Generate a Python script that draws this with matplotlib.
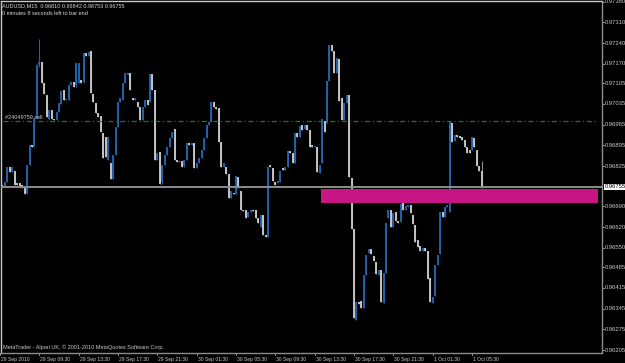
import numpy as np
import pandas as pd
import matplotlib
matplotlib.use("Agg")
import matplotlib.pyplot as plt
from matplotlib import transforms
from matplotlib.patches import Rectangle
import matplotlib.font_manager as fm

# ---------------- data ----------------
header_line1 = "AUDUSD,M15  0.96810 0.96842 0.96753 0.96755"
header_line2 = "0 minutes 8 seconds left to bar end"
footer_text = "MetaTrader - Alpari UK, \u00a9 2001-2010 MetaQuotes Software Corp."

axis_start_time = "2010-09-29 05:30"
first_bar_time = "2010-09-29 05:45"

# prices in points (1 point = 0.00001)
opens_pts = [
    96762, 96756, 96773, 96821, 96807, 96810, 96770, 96768, 96762, 96751,
    96734, 96829, 96896, 96891, 96987, 97166, 97175, 97105, 97065, 96983,
    97014, 96983, 96981, 97009, 97035, 97082, 97048, 97050, 97099, 97110,
    97099, 97105, 97116, 97110, 97206, 97196, 97212, 97069, 97037, 97004,
    96994, 96936, 96925, 96846, 96835, 96781, 96863, 96958, 97043, 97048,
    97107, 97133, 97141, 97054, 97048, 97043, 97024, 96981, 97026, 97050,
    97043, 97136, 97082, 96846, 96874, 96771, 96829, 96863, 96891, 96919,
    96950, 96846, 96840, 96844, 96826, 96846, 96902, 96896, 96902, 96818,
    96835, 96852, 96880, 96919, 96964, 96975, 97041, 97025, 97022, 96908,
    96822, 96823, 96799, 96717, 96736, 96733, 96790, 96743, 96677, 96677,
    96653, 96669, 96677, 96677, 96649, 96621, 96660, 96593, 96585, 96829,
    96818, 96773, 96769, 96773, 96818, 96812, 96823, 96877, 96869, 96837,
    96936, 96925, 96964, 96950, 96964, 96947, 96896, 96889, 96891, 96802,
    96835, 96978, 96970, 97114, 97234, 97212, 97138, 97186, 97054, 96981,
    97037, 97065, 96784, 96612, 96306, 96368, 96371, 96346, 96458, 96531,
    96545, 96522, 96503, 96458, 96475, 96364, 96466, 96652, 96679, 96621,
    96671, 96641, 96638, 96726, 96677, 96687, 96694, 96660, 96627, 96576,
    96555, 96539, 96549, 96539, 96447, 96362, 96388, 96492, 96529, 96672,
    96655, 96687, 96672, 96971, 96911, 96930, 96928, 96923, 96915, 96889,
    96880, 96880, 96919, 96880, 96826, 96810,
]
highs_pts = [
    96763, 96773, 96823, 96821, 96821, 96810, 96770, 96768, 96762, 96751,
    96829, 96896, 96896, 96987, 97166, 97253, 97175, 97105, 97065, 97014,
    97014, 96983, 97009, 97037, 97080, 97082, 97053, 97099, 97110, 97110,
    97173, 97173, 97116, 97206, 97206, 97210, 97212, 97069, 97037, 97004,
    96994, 96936, 96925, 96925, 96835, 96863, 96958, 97043, 97054, 97105,
    97138, 97141, 97141, 97054, 97054, 97043, 97024, 97024, 97048, 97050,
    97136, 97136, 97082, 96869, 96874, 96829, 96863, 96891, 96919, 96942,
    96950, 96846, 96844, 96844, 96846, 96902, 96902, 96902, 96902, 96835,
    96852, 96880, 96919, 96964, 96975, 97043, 97041, 97025, 97022, 96908,
    96837, 96823, 96799, 96743, 96736, 96792, 96790, 96743, 96677, 96677,
    96669, 96677, 96677, 96677, 96649, 96660, 96660, 96593, 96823, 96829,
    96818, 96773, 96776, 96810, 96818, 96823, 96877, 96877, 96869, 96936,
    96936, 96961, 96964, 96963, 96964, 96947, 96896, 96893, 96891, 96829,
    96983, 96978, 97114, 97234, 97234, 97212, 97189, 97186, 97054, 97037,
    97065, 97065, 96784, 96612, 96368, 96368, 96371, 96458, 96526, 96545,
    96545, 96522, 96503, 96475, 96475, 96464, 96635, 96679, 96679, 96666,
    96671, 96641, 96698, 96726, 96691, 96694, 96694, 96660, 96627, 96576,
    96555, 96549, 96549, 96539, 96447, 96385, 96492, 96526, 96672, 96672,
    96687, 96694, 96975, 96971, 96930, 96930, 96928, 96923, 96915, 96889,
    96880, 96923, 96919, 96880, 96826, 96842,
]
lows_pts = [
    96756, 96756, 96773, 96807, 96807, 96762, 96762, 96756, 96751, 96731,
    96731, 96829, 96889, 96891, 96987, 97160, 97105, 97069, 96990, 96983,
    96983, 96981, 96981, 97009, 97035, 97048, 97048, 97050, 97099, 97093,
    97093, 97105, 97105, 97105, 97196, 97196, 97072, 97043, 97004, 96992,
    96942, 96852, 96857, 96846, 96781, 96781, 96863, 96958, 97043, 97048,
    97107, 97133, 97082, 97048, 97048, 97026, 96981, 96981, 97026, 97031,
    97043, 97082, 96846, 96846, 96765, 96765, 96829, 96863, 96891, 96919,
    96846, 96840, 96840, 96822, 96822, 96846, 96896, 96896, 96818, 96818,
    96835, 96852, 96880, 96919, 96964, 96975, 97025, 97019, 96908, 96823,
    96822, 96799, 96717, 96717, 96731, 96731, 96751, 96677, 96675, 96649,
    96653, 96669, 96675, 96649, 96634, 96621, 96593, 96587, 96585, 96822,
    96776, 96762, 96769, 96773, 96812, 96812, 96823, 96870, 96837, 96837,
    96923, 96925, 96947, 96950, 96947, 96891, 96889, 96889, 96807, 96802,
    96835, 96942, 96970, 97114, 97212, 97138, 97138, 97046, 96981, 96981,
    97037, 96790, 96612, 96312, 96306, 96360, 96346, 96346, 96458, 96531,
    96529, 96506, 96461, 96458, 96368, 96364, 96466, 96652, 96621, 96621,
    96641, 96634, 96638, 96677, 96677, 96687, 96667, 96630, 96571, 96553,
    96539, 96539, 96539, 96444, 96368, 96362, 96388, 96492, 96529, 96653,
    96655, 96687, 96672, 96908, 96911, 96925, 96920, 96913, 96891, 96869,
    96869, 96880, 96889, 96826, 96810, 96753,
]
closes_pts = [
    96758, 96773, 96823, 96807, 96821, 96762, 96762, 96756, 96751, 96731,
    96829, 96896, 96889, 96987, 97166, 97175, 97105, 97069, 96990, 97014,
    96983, 96981, 97009, 97037, 97080, 97048, 97053, 97099, 97110, 97093,
    97173, 97173, 97105, 97206, 97196, 97210, 97072, 97043, 97004, 96992,
    96942, 96852, 96857, 96925, 96781, 96863, 96958, 97043, 97054, 97105,
    97138, 97141, 97082, 97048, 97054, 97026, 96981, 97024, 97048, 97031,
    97136, 97082, 96846, 96869, 96765, 96829, 96863, 96891, 96919, 96942,
    96846, 96840, 96844, 96822, 96846, 96902, 96896, 96902, 96818, 96835,
    96852, 96880, 96919, 96964, 96975, 97043, 97025, 97019, 96908, 96823,
    96837, 96799, 96717, 96743, 96731, 96792, 96751, 96677, 96675, 96649,
    96669, 96677, 96675, 96649, 96634, 96660, 96593, 96587, 96823, 96822,
    96776, 96762, 96776, 96810, 96812, 96823, 96877, 96870, 96837, 96936,
    96923, 96961, 96947, 96963, 96947, 96891, 96889, 96893, 96807, 96829,
    96983, 96942, 97114, 97234, 97212, 97138, 97189, 97046, 96981, 97037,
    97065, 96790, 96612, 96312, 96368, 96360, 96346, 96458, 96526, 96545,
    96529, 96506, 96461, 96475, 96368, 96464, 96635, 96679, 96621, 96666,
    96641, 96634, 96698, 96677, 96691, 96694, 96667, 96630, 96571, 96553,
    96539, 96549, 96539, 96444, 96368, 96385, 96492, 96526, 96672, 96653,
    96687, 96694, 96975, 96908, 96930, 96925, 96920, 96913, 96891, 96869,
    96869, 96923, 96889, 96826, 96810, 96755,
]

bid_price = 0.96755
order_price = 0.96978
order_label = "#24049759 sell"

rect_start_time = "2010-09-30 14:10"
rect_end_time = "2010-10-01 18:20"
rect_top = 0.96747
rect_bottom = 0.96702

price_labels = ["0.97380", "0.97310", "0.97240", "0.97170", "0.97105", "0.97035",
                "0.96965", "0.96895", "0.96825", "0.96690", "0.96620", "0.96550",
                "0.96485", "0.96415", "0.96345", "0.96275", "0.96205"]

time_label_times = ["2010-09-29 05:30", "2010-09-29 09:30", "2010-09-29 13:30",
                    "2010-09-29 17:30", "2010-09-29 21:30", "2010-09-30 01:30",
                    "2010-09-30 05:30", "2010-09-30 09:30", "2010-09-30 13:30",
                    "2010-09-30 17:30", "2010-09-30 21:30", "2010-10-01 01:30",
                    "2010-10-01 05:30"]
time_label_texts = ["29 Sep 2010", "29 Sep 09:30", "29 Sep 13:30", "29 Sep 17:30",
                    "29 Sep 21:30", "30 Sep 01:30", "30 Sep 05:30", "30 Sep 09:30",
                    "30 Sep 13:30", "30 Sep 17:30", "30 Sep 21:30", "1 Oct 01:30",
                    "1 Oct 05:30"]

# ---------------- prep ----------------
opens = np.array(opens_pts) / 1e5
highs = np.array(highs_pts) / 1e5
lows = np.array(lows_pts) / 1e5
closes = np.array(closes_pts) / 1e5

step = pd.Timedelta(minutes=15)
t0 = pd.Timestamp(axis_start_time)
bar_times = pd.date_range(first_bar_time, periods=len(opens), freq="15min")
xs = np.asarray((bar_times - t0) / step, dtype=float)


def tx(t):
    return (pd.Timestamp(t) - t0) / step


names = {f.name for f in fm.fontManager.ttflist}
FONT = "Liberation Sans" if "Liberation Sans" in names else "DejaVu Sans"
plt.rcParams["font.family"] = [FONT, "DejaVu Sans"]
plt.rcParams["lines.scale_dashes"] = False

W, H = 625, 363
fig = plt.figure(figsize=(W / 100, H / 100), dpi=100, facecolor="black")
ax_l, ax_r, ax_t, ax_b = 1.5, 601.7, 0.8, 352.5
ax = fig.add_axes([ax_l / W, 1 - ax_b / H, (ax_r - ax_l) / W, (ax_b - ax_t) / H])
ax.set_facecolor("black")

# axis limits (pixel frame -> data)
px_per_bar = 2.4585
ax.set_xlim(ax_l / px_per_bar, ax_r / px_per_bar)
ax.set_ylim(0.961967, 0.97383)

bull = closes >= opens
bull_col = "#2462ab"
bear_body = "#c8c8c8"
bear_wick = "#8a8a8a"
wick_cols = np.where(bull, bull_col, bear_wick)
body_cols = np.where(bull, bull_col, bear_body)
ax.vlines(xs, lows, highs, colors=wick_cols, lw=0.8, zorder=2)
ax.vlines(xs, np.minimum(opens, closes), np.maximum(opens, closes),
          colors=body_cols, lw=1.35, zorder=2.1)

# rectangle object
rx0, rx1 = tx(rect_start_time), tx(rect_end_time)
ax.add_patch(Rectangle((rx0, rect_bottom), rx1 - rx0, rect_top - rect_bottom,
                       facecolor="#c71585", edgecolor="none", zorder=3))

# bid line
ax.axhline(bid_price, color="#8c8c8c", lw=1.4, zorder=4)

# order line
ax.hlines(order_price, ax.get_xlim()[0] + 0.6, rx1, colors="#1f7a1f", lw=0.9,
          linestyles=(0, (3.6, 2.0, 0.8, 2.0)), zorder=4)
ax.text(ax_l / px_per_bar + 1.4, order_price + 0.00004, order_label,
        color="#d0d0d0", fontsize=4.0, va="bottom", ha="left", zorder=5)

# frame
ax.set_xticks([])
ax.set_yticks([])
for s in ["left", "top"]:
    ax.spines[s].set_color("#c8c8c8")
for s in ["right", "bottom"]:
    ax.spines[s].set_color("#8c8c8c")
for s in ax.spines.values():
    s.set_linewidth(1.0)

# price scale
ytr = transforms.blended_transform_factory(ax.transAxes, ax.transData)
for lab in price_labels:
    v = float(lab)
    ax.plot([1.0, 1.0035], [v, v], color="#8c8c8c", lw=0.7, transform=ytr,
            clip_on=False)
    ax.text(1.0045, v, lab, color="#c8c8c8", fontsize=4.2, va="center",
            ha="left", transform=ytr, clip_on=False)
ax.text(1.0045, bid_price, f"{bid_price:.5f}", color="black", fontsize=4.2,
        va="center", ha="left", transform=ytr, clip_on=False,
        bbox=dict(facecolor="white", edgecolor="none", pad=0.6))

# time scale
xtr = transforms.blended_transform_factory(ax.transData, ax.transAxes)
for t, lab in zip(time_label_times, time_label_texts):
    x = tx(t)
    ax.plot([x, x], [0.0, -0.008], color="#8c8c8c", lw=0.7, transform=xtr,
            clip_on=False)
    ax.text(x + 0.35, -0.012, lab, color="#c8c8c8", fontsize=3.6, va="top",
            ha="left", transform=xtr, clip_on=False)

# header / footer texts
fig.text(2.5 / W, 1 - 5.5 / H, header_line1, color="#d8d8d8", fontsize=4.0,
         va="center", ha="left")
fig.text(2.5 / W, 1 - 13.5 / H, header_line2, color="#d8d8d8", fontsize=4.0,
         va="center", ha="left")
fig.text(3 / W, 1 - 347 / H, footer_text, color="#c8c8c8", fontsize=4.0,
         va="center", ha="left")

fig.savefig("out.png", dpi=100, facecolor="black")
